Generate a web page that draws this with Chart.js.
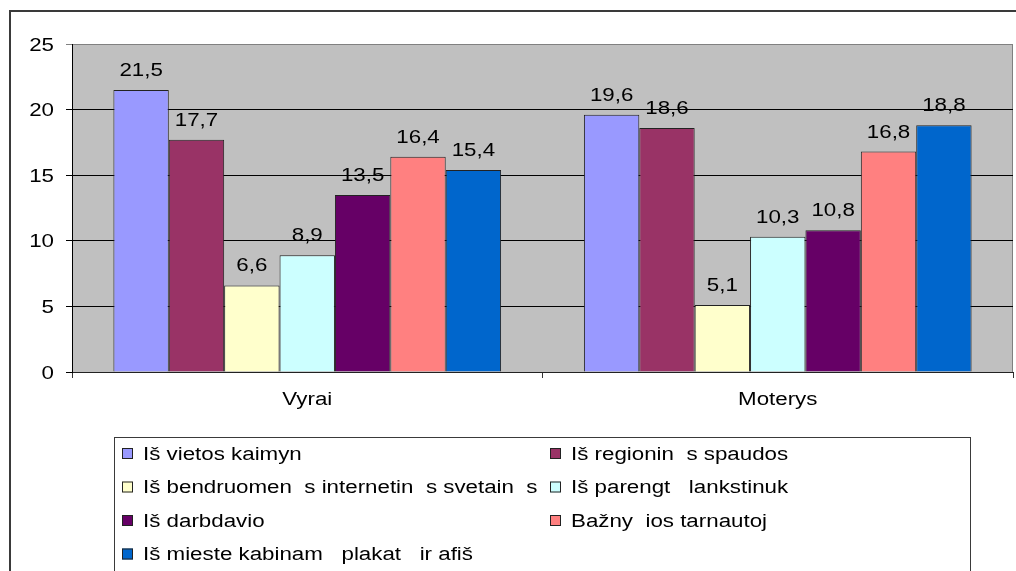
<!DOCTYPE html>
<html>
<head>
<meta charset="utf-8">
<script src="https://cdn.jsdelivr.net/npm/chart.js@4"></script>
<style>
  html, body { margin: 0; padding: 0; background: #fff; }
  #wrap { width: 1016px; height: 571px; position: relative; }
</style>
</head>
<body>
<div id="wrap"><canvas id="chart" width="1016" height="571"></canvas></div>
<script>
// Data
const categories = ['Vyrai', 'Moterys'];
const seriesNames = [
    'Iš vietos kaimyn',
    'Iš regionin  s spaudos',
    'Iš bendruomen  s internetin  s svetain  s',
    'Iš parengt   lankstinuk',
    'Iš darbdavio',
    'Bažny  ios tarnautoj',
    'Iš mieste kabinam   plakat   ir afiš'
];
const seriesColors = ['#9999FF', '#993366', '#FFFFCC', '#CCFFFF', '#660066', '#FF8080', '#0066CC'];
const vietosKaimyn = [21.5, 19.6];
const regioninesSpaudos = [17.7, 18.6];
const bendruomenesSvetaines = [6.6, 5.1];
const parengtuLankstinuku = [8.9, 10.3];
const darbdavio = [13.5, 10.8];
const baznyciosTarnautoju = [16.4, 16.8];
const miestePlakatu = [15.4, 18.8];
const yTicks = [0, 5, 10, 15, 20, 25];

const seriesValues = [vietosKaimyn, regioninesSpaudos, bendruomenesSvetaines,
    parengtuLankstinuku, darbdavio, baznyciosTarnautoju, miestePlakatu];

const FONT = '18px "Liberation Sans", Arial, sans-serif';
const STRETCH = 1.24; // the original text is drawn a bit wide

// text drawn with a horizontal stretch
function wideText(ctx, txt, x, y, align) {
    ctx.save();
    ctx.font = FONT;
    ctx.fillStyle = '#000';
    ctx.textAlign = align;
    ctx.textBaseline = 'alphabetic';
    ctx.translate(x, y);
    ctx.scale(STRETCH, 1);
    ctx.fillText(txt, 0, 0);
    ctx.restore();
}

// Outer frame, grey plot background, legend box, axis labels
const decorPlugin = {
    id: 'decor',
    beforeDraw(chart) {
        const ctx = chart.ctx;
        const a = chart.chartArea;
        ctx.save();
        ctx.fillStyle = '#fff';
        ctx.fillRect(0, 0, chart.width, chart.height);
        // frame
        ctx.strokeStyle = '#3a3a3a';
        ctx.lineWidth = 2;
        ctx.beginPath();
        ctx.moveTo(10, chart.height + 5);
        ctx.lineTo(10, 11);
        ctx.lineTo(chart.width + 5, 11);
        ctx.stroke();
        // plot area
        ctx.fillStyle = '#C0C0C0';
        ctx.fillRect(a.left, a.top, a.right - a.left, a.bottom - a.top);
        ctx.strokeStyle = '#808080';
        ctx.lineWidth = 1;
        ctx.strokeRect(a.left + 0.5, a.top + 0.5, a.right - a.left - 1, a.bottom - a.top);
        ctx.restore();
    },
    afterDraw(chart) {
        const ctx = chart.ctx;
        const xs = chart.scales.x;
        const ys = chart.scales.y;
        // axis labels
        yTicks.forEach(v => {
            wideText(ctx, String(v), 54, ys.getPixelForValue(v) + 6.5, 'right');
        });
        categories.forEach((c, i) => {
            wideText(ctx, c, xs.getPixelForValue(i), 405, 'center');
        });
        // legend box
        ctx.save();
        ctx.strokeStyle = '#3a3a3a';
        ctx.lineWidth = 1;
        ctx.strokeRect(114.5, 437.5, 856, 200);
        chart.data.datasets.forEach((ds, i) => {
            const col = i % 2;
            const row = Math.floor(i / 2);
            const x = col === 0 ? 122 : 550;
            const y = 453 + row * 33.5;
            ctx.fillStyle = ds.backgroundColor;
            ctx.fillRect(x, y - 5, 11, 11);
            ctx.strokeStyle = '#222';
            ctx.strokeRect(x + 0.5, y - 4.5, 10, 10);
            wideText(ctx, ds.label, x + 21, y + 6.5, 'left');
        });
        ctx.restore();
    }
};

// Value labels above bars, with decimal comma
const valueLabels = {
    id: 'valueLabels',
    afterDatasetsDraw(chart) {
        const ctx = chart.ctx;
        chart.data.datasets.forEach((ds, i) => {
            const meta = chart.getDatasetMeta(i);
            meta.data.forEach((el, j) => {
                const txt = ds.data[j].toFixed(1).replace('.', ',');
                wideText(ctx, txt, el.x, el.y - 14, 'center');
            });
        });
    }
};

const datasets = seriesNames.map((name, i) => ({
    label: name,
    data: seriesValues[i],
    backgroundColor: seriesColors[i],
    borderColor: '#222',
    borderWidth: 1,
    borderSkipped: 'bottom',
    categoryPercentage: 0.824,
    barPercentage: 1.0
}));

new Chart(document.getElementById('chart'), {
    type: 'bar',
    data: { labels: categories, datasets: datasets },
    plugins: [decorPlugin, valueLabels],
    options: {
        responsive: false,
        animation: false,
        layout: { padding: { left: 0, top: 44, right: 3, bottom: 0 } },
        plugins: {
            legend: { display: false },
            tooltip: { enabled: false }
        },
        scales: {
            x: {
                grid: {
                    offset: true,
                    drawOnChartArea: false,
                    drawTicks: true,
                    tickLength: 6,
                    color: '#333'
                },
                border: { display: true, color: '#222', width: 1 },
                ticks: { display: false },
                afterFit(scale) { scale.height = 199; }
            },
            y: {
                min: yTicks[0],
                max: yTicks[yTicks.length - 1],
                afterBuildTicks(scale) {
                    scale.ticks = yTicks.map(v => ({ value: v }));
                },
                grid: {
                    color: ctx => (ctx.tick && ctx.tick.value === 25 ? '#808080' : '#000'),
                    tickLength: 6,
                    drawTicks: true
                },
                border: { display: true, color: '#000', width: 1 },
                ticks: { display: false },
                afterFit(scale) { scale.width = 72; }
            }
        }
    }
});
</script>
</body>
</html>
